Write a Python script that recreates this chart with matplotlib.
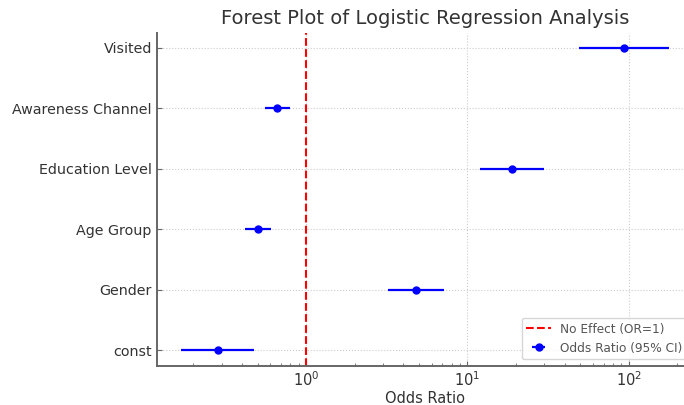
import matplotlib
matplotlib.use("Agg")
import matplotlib.pyplot as plt
import numpy as np

variables = ["const", "Gender", "Age Group", "Education Level", "Awareness Channel", "Visited"]
odds_ratio = [0.284, 4.79, 0.506, 18.9, 0.66, 94.0]
ci_lower = [0.168, 3.22, 0.416, 11.9, 0.557, 49.3]
ci_upper = [0.477, 7.13, 0.608, 29.9, 0.79, 178.0]

text_color = "#333333"
plt.rcParams.update({
    "text.color": text_color,
    "axes.labelcolor": text_color,
    "xtick.color": "#666666",
    "ytick.color": "#666666",
    "xtick.labelcolor": text_color,
    "ytick.labelcolor": text_color,
    "font.family": ["DejaVu Sans"],
})

fig = plt.figure(figsize=(6.84, 4.05), dpi=100)
ax = fig.add_axes([156.7/684, 1 - 365.5/405, (693.5 - 156.7)/684, (365.5 - 32.5)/405])

y = np.arange(len(variables))
orr = np.array(odds_ratio)
lo = np.array(ci_lower)
hi = np.array(ci_upper)
xerr = np.vstack([orr - lo, hi - orr])

ax.axvline(1, color="red", linestyle="--", linewidth=1.5, label="No Effect (OR=1)", zorder=2)
ax.errorbar(orr, y, xerr=xerr, fmt="o", color="blue", ecolor="blue",
            elinewidth=1.6, capsize=0, markersize=5, label="Odds Ratio (95% CI)", zorder=3)

ax.set_xscale("log")
ax.set_yticks(y)
ax.set_yticklabels(variables, fontsize=10.3)
ax.tick_params(axis="both", which="both", direction="in")
ax.tick_params(axis="x", which="major", labelsize=10.5)
ax.set_xlabel("Odds Ratio", fontsize=10.5, labelpad=1.5)
ax.set_title("Forest Plot of Logistic Regression Analysis", fontsize=14, pad=6)
ax.grid(True, which="major", linestyle=":", color="#cccccc", linewidth=0.8)
for s in ["top", "right"]:
    ax.spines[s].set_visible(False)
for s in ["left", "bottom"]:
    ax.spines[s].set_color("#666666")
    ax.spines[s].set_linewidth(1.4)

leg = ax.legend(loc="lower right", fontsize=8.7, frameon=True, labelcolor="#555555")
leg.get_frame().set_edgecolor("#cccccc")

fig.savefig("out.png", dpi=100)
